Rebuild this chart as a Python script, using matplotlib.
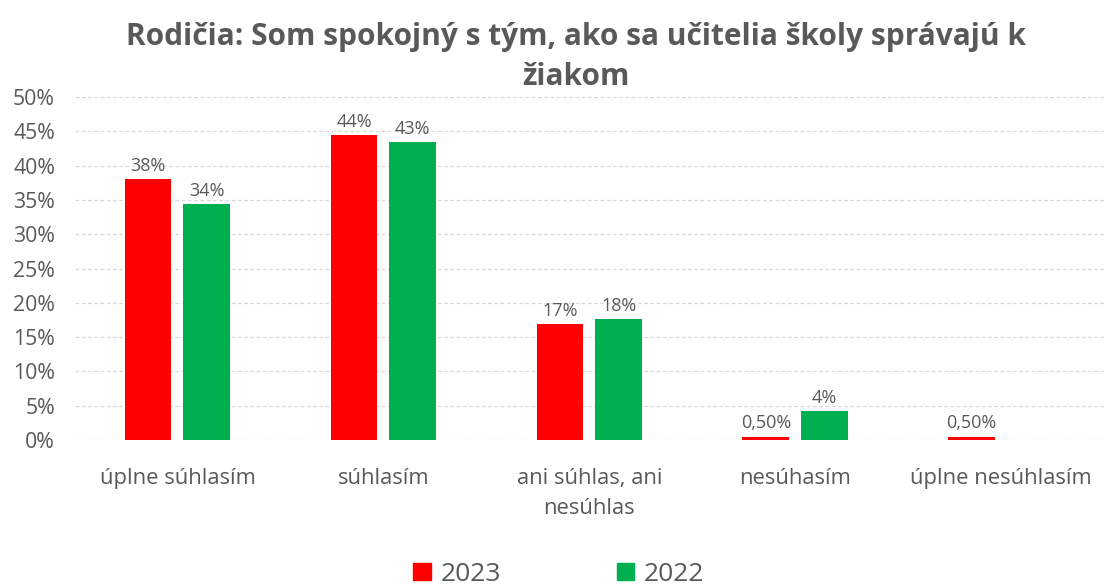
import numpy as np
import matplotlib
matplotlib.use("Agg")
import matplotlib.pyplot as plt
from matplotlib.patches import Patch

plt.rcParams['font.family'] = ['Open Sans', 'DejaVu Sans']

# Data
categories = ["úplne súhlasím", "súhlasím", "ani súhlas, ani\nnesúhlas", "nesúhasím", "úplne nesúhlasím"]
v2023 = [38.0, 44.4, 16.9, 0.5, 0.5]
v2022 = [34.4, 43.4, 17.6, 4.2, 0.0]
lab2023 = ["38%", "44%", "17%", "0,50%", "0,50%"]
lab2022 = ["34%", "43%", "18%", "4%", ""]

gray = "#595959"
red = "#FF0000"
green = "#00B050"

fig = plt.figure(figsize=(11.07, 5.88), dpi=100)
ax = fig.add_axes([0.0673, 0.2517, 0.93, 0.5833])

x = np.arange(len(categories))
w = 0.227
off = 0.1425
b1 = ax.bar(x - off, v2023, w, color=red, zorder=3)
b2 = ax.bar(x + off, v2022, w, color=green, zorder=3)

for rect, t in zip(b1, lab2023):
    ax.text(rect.get_x() + rect.get_width() / 2, rect.get_height() + 0.6, t,
            ha="center", va="bottom", fontsize=13, color=gray)
for rect, t in zip(b2, lab2022):
    if t:
        ax.text(rect.get_x() + rect.get_width() / 2, rect.get_height() + 0.6, t,
                ha="center", va="bottom", fontsize=13, color=gray)

ax.set_xlim(-0.5, len(categories) - 0.5)
ax.set_ylim(0, 50)
ax.set_yticks(np.arange(0, 51, 5))
ax.set_yticklabels([f"{v}%" for v in range(0, 51, 5)])
ax.set_xticks(x)
ax.set_xticklabels(categories)
ax.tick_params(axis="both", length=0, colors=gray)
ax.tick_params(axis="x", pad=20, labelsize=15.8)
ax.tick_params(axis="y", pad=14, labelsize=15.3)
for lbl in ax.get_xticklabels():
    lbl.set_linespacing(1.55)
ax.yaxis.grid(True, color="#D9D9D9", linestyle=(0, (3, 2)), linewidth=0.9, zorder=0)
for s in ax.spines.values():
    s.set_visible(False)

fig.text(0.52, 1 - 57 / 588, "Rodičia: Som spokojný s tým, ako sa učitelia školy správajú k\nžiakom",
         ha="center", va="center", fontsize=21.5, fontweight="bold", color=gray,
         linespacing=1.4, multialignment="center")

handles = [Patch(color=red, label="2023"), Patch(color=green, label="2022")]
fig.legend(handles=handles, loc="lower center", bbox_to_anchor=(0.505, -0.038), ncol=2,
           frameon=False, fontsize=19, handlelength=0.65, handleheight=0.65,
           handletextpad=0.38, columnspacing=4.4, labelcolor=gray)

fig.savefig("out.png", dpi=100)
